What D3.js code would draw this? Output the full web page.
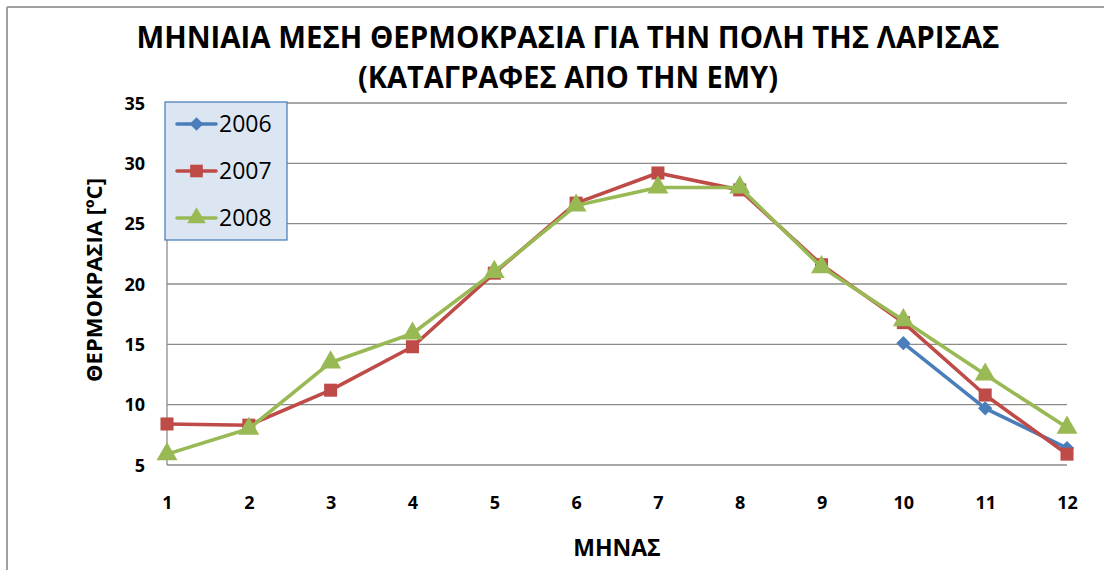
<!DOCTYPE html>
<html><head><meta charset="utf-8">
<script src="https://cdn.jsdelivr.net/npm/d3@7/dist/d3.min.js"></script>
<style>
body{margin:0;background:#fff;}
text{font-family:"Open Sans","Liberation Sans",sans-serif;}
</style></head>
<body>
<svg id="chart" width="1104" height="570"></svg>
<script>
const months = [1,2,3,4,5,6,7,8,9,10,11,12];
const series2006 = [null,null,null,null,null,null,null,null,null,15.1,9.7,6.4];
const series2007 = [8.4,8.3,11.2,14.8,20.9,26.7,29.2,27.8,21.6,16.8,10.8,5.9];
const series2008 = [5.9,8.0,13.5,15.9,21.0,26.5,28.0,28.0,21.4,17.0,12.5,8.1];
const yTicks = [5,10,15,20,25,30,35];
const seriesNames = ["2006","2007","2008"];
const seriesColors = ["#4a7ebb","#be4b48","#98b954"];
const seriesShapes = [d3.symbolDiamond2, d3.symbolSquare, d3.symbolTriangle];
const titleLines = ["ΜΗΝΙΑΙΑ ΜΕΣΗ ΘΕΡΜΟΚΡΑΣΙΑ ΓΙΑ ΤΗΝ ΠΟΛΗ ΤΗΣ ΛΑΡΙΣΑΣ","(ΚΑΤΑΓΡΑΦΕΣ ΑΠΟ ΤΗΝ ΕΜΥ)"];
const xTitle = "ΜΗΝΑΣ";
const yTitle = "ΘΕΡΜΟΚΡΑΣΙΑ [ºC]";

const allSeries = [series2006, series2007, series2008];
const svg = d3.select("#chart");

// outer border (top & left visible)
svg.append("line").attr("x1",7).attr("x2",1104).attr("y1",7).attr("y2",7).attr("stroke","#a0a0a0").attr("stroke-width",2);
svg.append("line").attr("x1",7).attr("x2",7).attr("y1",7).attr("y2",570).attr("stroke","#a0a0a0").attr("stroke-width",2);

const x = d3.scaleLinear().domain([1,12]).range([167,1067]);
const y = d3.scaleLinear().domain([5,35]).range([465,103]);

// gridlines
svg.append("g").selectAll("line").data(yTicks).join("line")
  .attr("x1",167).attr("x2",1067)
  .attr("y1",d=>y(d)).attr("y2",d=>y(d))
  .attr("stroke","#8c8c8c").attr("stroke-width",1.3);
// y axis line
svg.append("line").attr("x1",167).attr("x2",167).attr("y1",y(35)).attr("y2",y(5)).attr("stroke","#8c8c8c").attr("stroke-width",1.3);

// y tick labels
const yAxis = d3.axisLeft(y).tickValues(yTicks).tickSize(0).tickPadding(22);
const gy = svg.append("g").attr("transform","translate(167,0)").call(yAxis);
gy.select(".domain").remove();
gy.selectAll("text").attr("font-size",18).attr("font-weight","bold").attr("fill","#000").attr("dy","0.35em");

// x tick labels
const xAxis = d3.axisBottom(x).tickValues(months).tickFormat(d3.format("d")).tickSize(0).tickPadding(0);
const gx = svg.append("g").attr("transform","translate(0,503)").call(xAxis);
gx.select(".domain").remove();
gx.selectAll("text").attr("font-size",18).attr("font-weight","bold").attr("fill","#000").attr("dy","0.35em");

// lines and markers
const line = d3.line().defined(d=>d.v!=null).x(d=>x(d.m)).y(d=>y(d.v));
const markerSizes = [130,170,190];
allSeries.forEach((s,i)=>{
  const pts = months.map((m,j)=>({m:m,v:s[j]}));
  svg.append("path").datum(pts).attr("d",line).attr("fill","none")
    .attr("stroke",seriesColors[i]).attr("stroke-width",3.6).attr("stroke-linejoin","round");
  svg.append("g").selectAll("path").data(pts.filter(d=>d.v!=null)).join("path")
    .attr("transform",d=>`translate(${x(d.m)},${y(d.v)})`)
    .attr("d",d3.symbol().type(seriesShapes[i]).size(markerSizes[i]))
    .attr("fill",seriesColors[i]);
});

// legend
const lg = svg.append("g");
lg.append("rect").attr("x",165).attr("y",102).attr("width",122).attr("height",138)
  .attr("fill","#dce6f2").attr("stroke","#4f81bd").attr("stroke-width",1.3);
const legendSizes = [120,160,150];
seriesNames.forEach((n,i)=>{
  const cy = 124 + i*47;
  lg.append("line").attr("x1",177).attr("x2",216).attr("y1",cy).attr("y2",cy)
    .attr("stroke",seriesColors[i]).attr("stroke-width",3.6).attr("stroke-linecap","round");
  lg.append("path").attr("transform",`translate(196.5,${cy})`)
    .attr("d",d3.symbol().type(seriesShapes[i]).size(legendSizes[i]))
    .attr("fill",seriesColors[i]);
  lg.append("text").attr("x",219).attr("y",cy).attr("dy","0.36em")
    .attr("font-size",23).attr("fill","#000").text(n);
});

// titles
const titleLens = [863, 420];
svg.append("g").selectAll("text").data(titleLines).join("text")
  .attr("x",568).attr("y",(d,i)=>37+i*40).attr("dy","0.36em")
  .attr("text-anchor","middle").attr("font-size",31).attr("font-weight","bold")
  .attr("textLength",(d,i)=>titleLens[i]).attr("lengthAdjust","spacingAndGlyphs")
  .attr("fill","#000").text(d=>d);

svg.append("text").attr("x",617).attr("y",548).attr("dy","0.36em")
  .attr("text-anchor","middle").attr("font-size",23).attr("font-weight","bold").text(xTitle);

svg.append("text").attr("transform","translate(94,280) rotate(-90)").attr("dy","0.36em")
  .attr("text-anchor","middle").attr("font-size",22).attr("font-weight","bold").text(yTitle);
</script>
</body></html>
